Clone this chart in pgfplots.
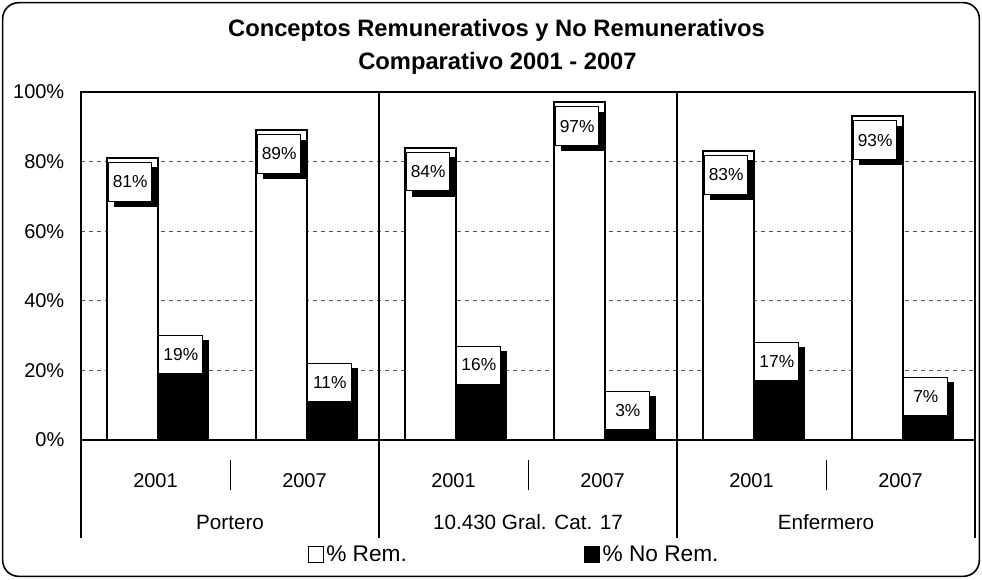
\documentclass[border=0pt]{standalone}
\usepackage{pgfplots}
\pgfplotsset{compat=1.18}
\usepackage{pgfplotstable}
\usepackage{fontspec}
\setmainfont{Liberation Sans}
\usetikzlibrary{shadows}

\pgfplotstableread{
x rem norem
0 81 19
1 89 11
2 84 16
3 97 3
4 83 17
5 93 7
}\datatable

\begin{document}
\begin{tikzpicture}[x=1pt,y=1pt]
\useasboundingbox (0,0) rectangle (736.5,434.25);
\draw[line width=1.2pt, rounded corners=12pt] (2,2) rectangle (734.5,432.25);
\node[font=\bfseries\fontsize{17.8}{20}\selectfont, anchor=base] at (372.4,406.5) {Conceptos Remunerativos y No Remunerativos};
\node[font=\bfseries\fontsize{17.8}{20}\selectfont, anchor=base] at (373.1,381.75) {Comparativo 2001 - 2007};
\begin{axis}[
  at={(60.75pt,104.25pt)}, anchor=south west, scale only axis,
  width=670.5pt, height=261pt,
  xmin=-0.5, xmax=5.5, ymin=0, ymax=100,
  ybar, bar width=38pt,
  ytick={0,20,...,100},
  yticklabel={\pgfmathprintnumber{\tick}\%},
  /pgf/number format/assume math mode=true,
  xtick={0,...,5}, xticklabels={2001,2007,2001,2007,2001,2007},
  xtick style={draw=none}, ytick style={draw=none},
  tick label style={font=\fontsize{15}{18}\selectfont},
  xticklabel style={anchor=center, yshift=-26.25pt},
  yticklabel style={xshift=-9pt},
  ymajorgrids, major grid style={dashed, black!65, line width=0.5pt},
  axis line style={black, line width=0.8pt},
  clip=false,
  legend columns=2,
  legend style={at={(axis description cs:0.249,-0.330)}, anchor=west, draw=none, fill=none,
    font=\fontsize{17}{20}\selectfont,
    /tikz/every even column/.append style={column sep=131pt}},
]
\addplot[fill=white, draw=black, line width=1.5pt, bar shift=-17.5pt,
  legend image code/.code={\draw[black, line width=0.8pt, fill=white] (0pt,-6pt) rectangle (11pt,6pt);},
  nodes near coords={\pgfmathprintnumber{\pgfplotspointmeta}\%},
  nodes near coords align={anchor=north},
  every node near coord/.append style={draw=black, line width=0.6pt, fill=white, text=black,
    minimum width=32pt, minimum height=29pt, inner sep=0pt, xshift=-1.5pt, yshift=-3pt,
    font=\fontsize{13}{15}\selectfont,
    general shadow={fill=black, shadow xshift=4pt, shadow yshift=-4pt}}
] table[x=x, y=rem] {\datatable};
\addlegendentry{\% Rem.}
\addplot[fill=black, draw=black, line width=0.8pt, bar shift=20.5pt,
  legend image code/.code={\draw[black, line width=0.8pt, fill=black] (0pt,-6pt) rectangle (11pt,6pt);},
  nodes near coords={\pgfmathprintnumber{\pgfplotspointmeta}\%},
  nodes near coords align={anchor=south},
  every node near coord/.append style={draw=black, line width=0.6pt, fill=white, text=black,
    minimum width=33pt, minimum height=28.5pt, inner sep=0pt, xshift=-1.5pt, yshift=0pt,
    font=\fontsize{13}{15}\selectfont,
    general shadow={fill=black, shadow xshift=4pt, shadow yshift=-4pt}}
] table[x=x, y=norem] {\datatable};
\addlegendentry{\% No Rem.}
% separators
\draw[black, line width=0.8pt] (axis cs:-0.5,0) -- ([yshift=-73.5pt]axis cs:-0.5,0);
\draw[black, line width=0.8pt] (axis cs:5.5,0) -- ([yshift=-73.5pt]axis cs:5.5,0);
\draw[black, line width=0.8pt] (axis cs:1.5,100) -- ([yshift=-73.5pt]axis cs:1.5,0);
\draw[black, line width=0.8pt] (axis cs:3.5,100) -- ([yshift=-73.5pt]axis cs:3.5,0);
\draw[black, line width=0.6pt] ([yshift=-15pt]axis cs:0.5,0) -- ([yshift=-37.5pt]axis cs:0.5,0);
\draw[black, line width=0.6pt] ([yshift=-15pt]axis cs:2.5,0) -- ([yshift=-37.5pt]axis cs:2.5,0);
\draw[black, line width=0.6pt] ([yshift=-15pt]axis cs:4.5,0) -- ([yshift=-37.5pt]axis cs:4.5,0);
\node[font=\fontsize{15.5}{18}\selectfont] at ([yshift=-61.5pt]axis cs:0.5,0) {Portero};
\node[font=\fontsize{15.5}{18}\selectfont] at ([yshift=-61.5pt]axis cs:2.5,0) {10.430 Gral. Cat. 17};
\node[font=\fontsize{15.5}{18}\selectfont] at ([yshift=-61.5pt]axis cs:4.5,0) {Enfermero};
\end{axis}
\end{tikzpicture}
\end{document}
